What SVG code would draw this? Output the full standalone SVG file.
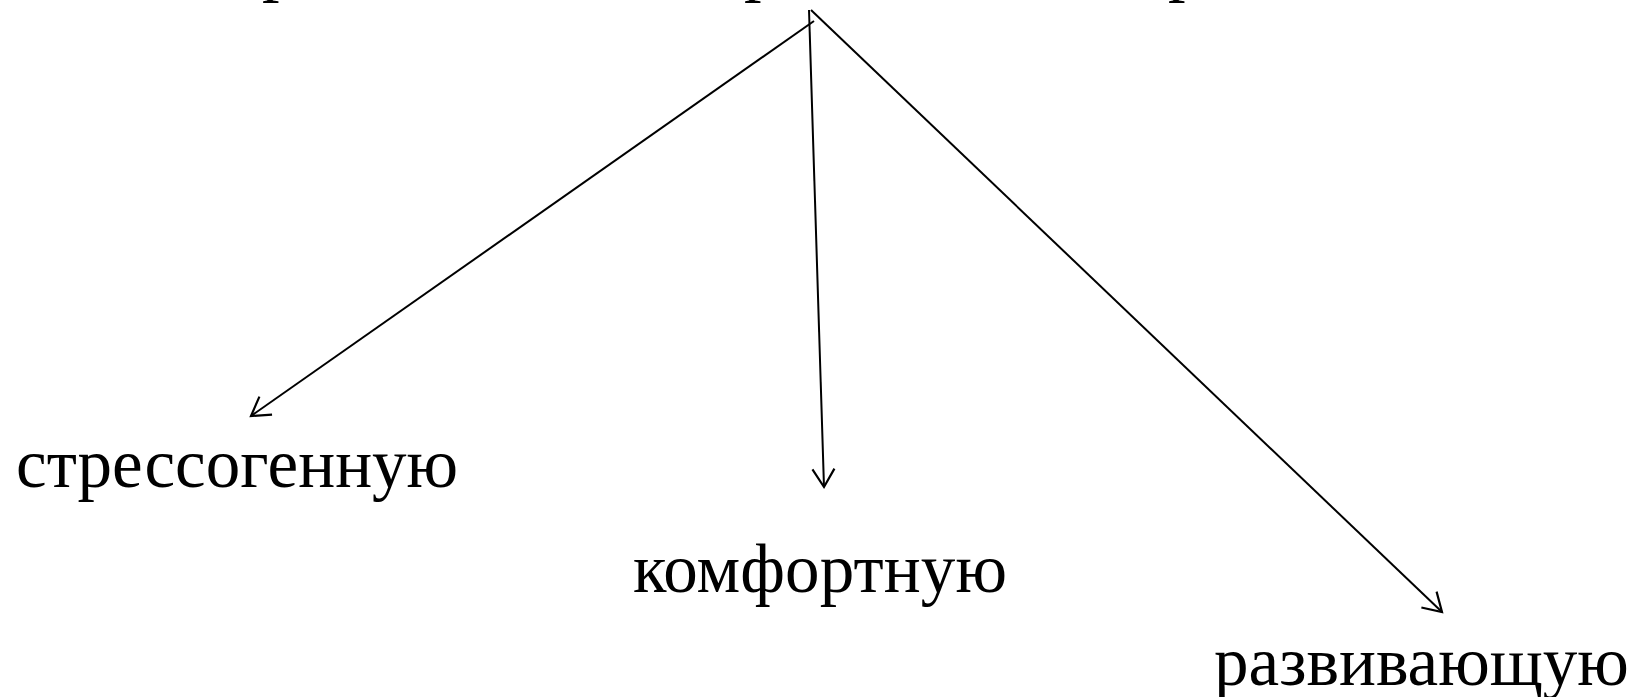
<svg xmlns="http://www.w3.org/2000/svg" width="1634" height="697" viewBox="0 0 1634 697">
<style>
.t{font-family:"Liberation Serif","Times New Roman",serif;font-size:69px;fill:#000}
.h{font-family:"Liberation Serif","Times New Roman",serif;font-size:70px;fill:#000}
.c{stroke:#000;stroke-width:2;fill:none}
</style>
<defs>
<marker id="a" viewBox="-22 -14 26 28" markerWidth="26" markerHeight="28" refX="0" refY="0" orient="auto" markerUnits="userSpaceOnUse">
<path d="M-18,-11 L0,0 L-18,11" fill="none" stroke="#000" stroke-width="2.2"/>
</marker>
</defs>
<rect width="1634" height="697" fill="#fff"/>
<g id="heading">
<text class="h" x="262" y="-12">р</text>
<text class="h" x="744" y="-12">р</text>
<text class="h" x="1168" y="-12">р</text>
</g>
<g id="connectors">
<line class="c" x1="814" y1="21" x2="251" y2="416" marker-end="url(#a)"/>
<line class="c" x1="809" y1="10" x2="824" y2="487" marker-end="url(#a)"/>
<line class="c" x1="811" y1="10" x2="1442" y2="612" marker-end="url(#a)"/>
</g>
<g id="n1"><text class="t" x="16" y="487">стрессогенную</text></g>
<g id="n2"><text class="t" x="633" y="592" textLength="374">комфортную</text></g>
<g id="n3"><text class="t" x="1214" y="685">развивающую</text></g>
</svg>
